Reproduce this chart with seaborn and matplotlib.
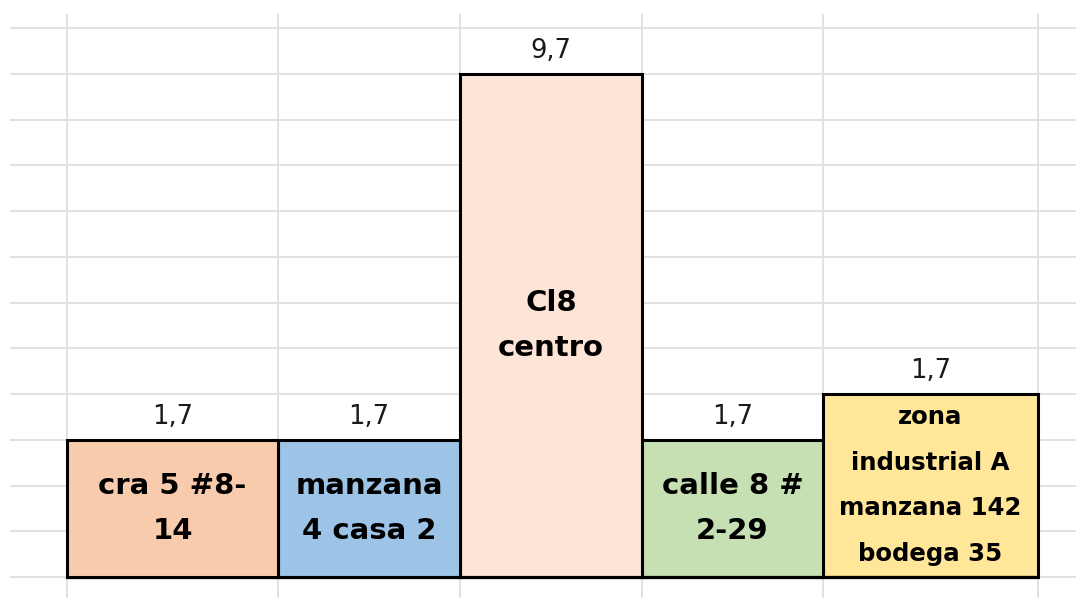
import numpy as np
import pandas as pd

import matplotlib
matplotlib.use("Agg")
import matplotlib.pyplot as plt
import seaborn as sns

# data
names = ["cra 5 #8-\n14", "manzana\n4 casa 2", "Cl8\ncentro", "calle 8 #\n2-29",
         "zona\nindustrial A\nmanzana 142\nbodega 35"]
value_labels = ["1,7", "1,7", "9,7", "1,7", "1,7"]
bar_rows = [3, 3, 11, 3, 4]            # bar heights in sheet rows
col_widths = [211, 182, 182, 181, 215]  # column widths in px
colors = ["#F8CBAD", "#9DC3E6", "#FCE4D6", "#C6E0B4", "#FFE699"]

# geometry of the sheet
row_px = 45.75
base_px = 577
left_px = 67
W, H = 1076, 598

edges = np.concatenate([[0], np.cumsum(col_widths)]).astype(float)
centers = (edges[:-1] + edges[1:]) / 2

df = pd.DataFrame({"x": centers, "rows": bar_rows, "name": names})

sns.set_style("white")
plt.rcParams["font.family"] = ["DejaVu Sans"]

fig = plt.figure(figsize=(W / 100, H / 100), dpi=100)
ax = fig.add_axes([0, 0, 1, 1])

#Step 1 : spreadsheet grid behind the bars
x0, x1 = -left_px, W - left_px
y0, y1 = -(H - base_px) / row_px, base_px / row_px
ax.hlines(np.arange(0, 13), x0 + 10, x1, color="#e2e2e2", lw=1.4, zorder=0)
ax.vlines(edges, y0, (base_px - 14) / row_px, color="#e2e2e2", lw=1.4, zorder=0)

#Step 2 : variable width bars
sns.histplot(data=df, x="x", weights="rows", hue="name", hue_order=names,
             bins=edges.tolist(), palette=dict(zip(names, colors)), multiple="layer",
             alpha=1, edgecolor="black", linewidth=2.2, legend=False, ax=ax)

#Step 3 : labels
for i in range(len(names)):
    ax.text(centers[i], bar_rows[i] + 0.5, value_labels[i], ha="center", va="center",
            fontsize=18.5, color="#1a1a1a")
    if i == 4:
        size, spacing = 17.6, 2.15
    else:
        size, spacing = 21, 1.75
    ax.text(centers[i], bar_rows[i] / 2, names[i], ha="center", va="center",
            fontsize=size, fontweight="bold", color="black", linespacing=spacing)

ax.set_xlim(x0, x1)
ax.set_ylim(y0, y1)
ax.axis("off")

fig.savefig("out.png", dpi=100)
